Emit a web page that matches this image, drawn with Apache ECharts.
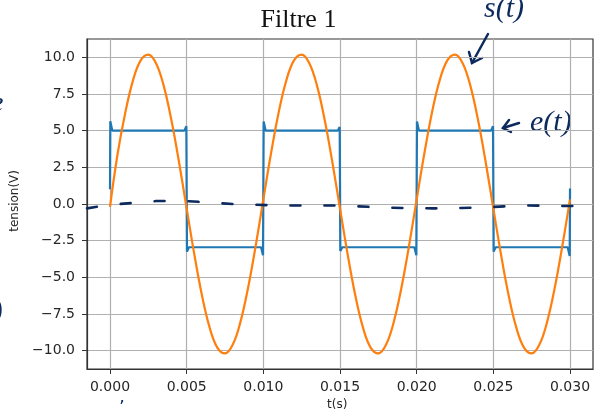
<!DOCTYPE html>
<html>
<head>
<meta charset="utf-8">
<script src="https://cdn.jsdelivr.net/npm/echarts@6/dist/echarts.min.js"></script>
<style>
  html, body { margin: 0; padding: 0; background: #fff; }
  #chart { width: 597px; height: 412px; }
</style>
</head>
<body>
<div id="chart"></div>
<script>
/* données */
const xTicks = [0, 0.005, 0.010, 0.015, 0.020, 0.025, 0.030];
const yTicks = [-10, -7.5, -5, -2.5, 0, 2.5, 5, 7.5, 10];

// s(t) : sortie du filtre (échantillons tous les 0.5 ms)
const sTimes = [
  0, 0.0005, 0.001, 0.0015, 0.002, 0.0025, 0.003, 0.0035, 0.004, 0.0045,
  0.005, 0.0055, 0.006, 0.0065, 0.007, 0.0075, 0.008, 0.0085, 0.009, 0.0095,
  0.010, 0.0105, 0.011, 0.0115, 0.012, 0.0125, 0.013, 0.0135, 0.014, 0.0145,
  0.015, 0.0155, 0.016, 0.0165, 0.017, 0.0175, 0.018, 0.0185, 0.019, 0.0195,
  0.020, 0.0205, 0.021, 0.0215, 0.022, 0.0225, 0.023, 0.0235, 0.024, 0.0245,
  0.025, 0.0255, 0.026, 0.0265, 0.027, 0.0275, 0.028, 0.0285, 0.029, 0.0295,
  0.030
];
const sVolts = [
  -0.2, 3.44, 6.24, 8.43, 9.79, 10.19, 9.6, 8.07, 5.74, 2.86,
  -0.31, -3.44, -6.24, -8.43, -9.79, -10.19, -9.6, -8.07, -5.74, -2.86,
  0.31, 3.44, 6.24, 8.43, 9.79, 10.19, 9.6, 8.07, 5.74, 2.86,
  -0.31, -3.44, -6.24, -8.43, -9.79, -10.19, -9.6, -8.07, -5.74, -2.86,
  0.31, 3.44, 6.24, 8.43, 9.79, 10.19, 9.6, 8.07, 5.74, 2.86,
  -0.31, -3.44, -6.24, -8.43, -9.79, -10.19, -9.6, -8.07, -5.74, -2.86,
  0.31
];

// e(t) : signal carré (avec petits dépassements aux fronts)
const eTimes = [
  0, 0.00002, 0.00015, 0.00485, 0.00498, 0.00502, 0.00515,
  0.00985, 0.00998, 0.01002, 0.01015, 0.01485, 0.01498, 0.01502, 0.01515,
  0.01985, 0.01998, 0.02002, 0.02015, 0.02485, 0.02498, 0.02502, 0.02515,
  0.02985, 0.02998, 0.030
];
const eVolts = [
  1.0, 5.65, 5.0, 5.0, 5.3, -3.25, -2.95,
  -2.95, -3.5, 5.62, 5.0, 5.0, 5.25, -3.2, -2.95,
  -2.95, -3.5, 5.62, 5.0, 5.0, 5.3, -3.25, -2.95,
  -2.95, -3.55, 1.05
];

// trait manuscrit en pointillés autour de 0
const handTimes = [-0.0015, 0.0, 0.003, 0.005, 0.008, 0.011, 0.015, 0.018, 0.021, 0.024, 0.027, 0.0308];
const handVolts = [-0.3, -0.05, 0.2, 0.2, 0.0, -0.1, -0.1, -0.25, -0.3, -0.25, -0.1, -0.15];

const pairs = (xs, ys) => xs.map((x, i) => [x, ys[i]]);
const minus = (s) => s.replace('-', '\u2212');

const ink = '#0c2a5e';
const myChart = echarts.init(document.getElementById('chart'));

const option = {
  animation: false,
  title: {
    text: 'Filtre 1',
    left: 'center',
    top: 2,
    textStyle: { fontFamily: 'Liberation Serif', fontSize: 26, fontWeight: 'normal', color: '#111' }
  },
  grid: {
    left: 87, right: 4, top: 39, bottom: 43,
    show: true, borderColor: '#333', borderWidth: 1.2
  },
  xAxis: {
    type: 'value',
    min: -0.0015,
    max: 0.0315,
    axisLine: { show: true, onZero: false, lineStyle: { color: '#333', width: 1.2 } },
    axisTick: { show: true, length: 5, customValues: xTicks, lineStyle: { color: '#333' } },
    axisLabel: {
      customValues: xTicks,
      margin: 11,
      fontFamily: 'DejaVu Sans', fontSize: 14, color: '#262626',
      formatter: (v) => v.toFixed(3)
    },
    splitLine: { show: true, lineStyle: { color: '#b0b0b0', width: 1.2 } }
  },
  yAxis: {
    type: 'value',
    min: -11.25,
    max: 11.25,
    axisLine: { show: true, onZero: false, lineStyle: { color: '#333', width: 1.2 } },
    axisTick: { show: true, length: 5, customValues: yTicks, lineStyle: { color: '#333' } },
    axisLabel: {
      customValues: yTicks,
      margin: 12,
      fontFamily: 'DejaVu Sans', fontSize: 14, color: '#262626',
      formatter: (v) => minus(v.toFixed(1))
    },
    splitLine: { show: true, lineStyle: { color: '#b0b0b0', width: 1.2 } }
  },
  series: [
    {
      name: 'e(t)',
      type: 'line',
      data: pairs(eTimes, eVolts),
      showSymbol: false,
      lineStyle: { color: '#1f77b4', width: 2.2 },
      z: 2
    },
    {
      name: 's(t)',
      type: 'line',
      data: pairs(sTimes, sVolts),
      smooth: 0.4,
      showSymbol: false,
      lineStyle: { color: '#ff7f0e', width: 2.2 },
      z: 3
    },
    {
      name: 'trait',
      type: 'line',
      data: pairs(handTimes, handVolts),
      showSymbol: false,
      clip: false,
      lineStyle: { color: ink, width: 2.6, type: [10, 24], cap: 'round' },
      z: 4
    }
  ],
  graphic: [
    { type: 'text', left: 9, top: 170, rotation: Math.PI / 2,
      style: { text: 'tension(V)', fontFamily: 'DejaVu Sans', fontSize: 12, fill: '#262626' } },
    { type: 'text', left: 327, top: 399,
      style: { text: 't(s)', fontFamily: 'DejaVu Sans', fontSize: 12, fill: '#262626' } },
    // annotations manuscrites
    { type: 'text', left: 484, top: -6,
      style: { text: 's(t)', fontFamily: 'Liberation Serif', fontStyle: 'italic', fontSize: 30, fill: ink } },
    { type: 'line', shape: { x1: 488, y1: 34, x2: 472, y2: 63 }, style: { stroke: ink, lineWidth: 2.5, lineCap: 'round' } },
    { type: 'polyline', shape: { points: [[469, 52], [472, 63], [482, 58]] }, style: { stroke: ink, lineWidth: 2.5, fill: null, lineCap: 'round' } },
    { type: 'text', left: 530, top: 108,
      style: { text: 'e(t)', fontFamily: 'Liberation Serif', fontStyle: 'italic', fontSize: 30, fill: ink } },
    { type: 'line', shape: { x1: 519, y1: 123, x2: 503, y2: 128 }, style: { stroke: ink, lineWidth: 2.5, lineCap: 'round' } },
    { type: 'polyline', shape: { points: [[509, 120], [503, 128], [511, 132]] }, style: { stroke: ink, lineWidth: 2.5, fill: null, lineCap: 'round' } },
    { type: 'text', left: -9, top: 90,
      style: { text: 'e', fontFamily: 'Liberation Serif', fontStyle: 'italic', fontSize: 28, fill: ink } },
    { type: 'text', left: -7, top: 294,
      style: { text: ')', fontFamily: 'Liberation Serif', fontSize: 30, fill: ink } },
    { type: 'text', left: 119, top: 399,
      style: { text: '\u02bc', fontFamily: 'DejaVu Sans', fontSize: 18, fill: ink } }
  ]
};

option && myChart.setOption(option);
</script>
</body>
</html>
